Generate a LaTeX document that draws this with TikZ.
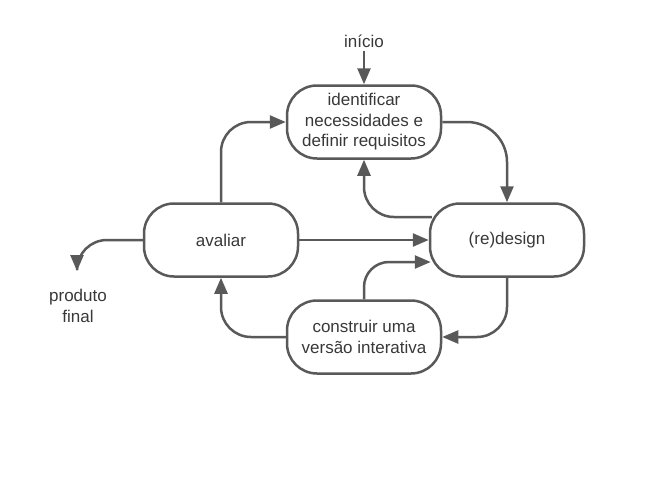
\documentclass[tikz,border=0pt]{standalone}
\usepackage{fontspec}
\setmainfont{Liberation Sans}
\usetikzlibrary{arrows.meta}
\definecolor{linha}{HTML}{595959}
\definecolor{texto}{HTML}{383838}

\begin{document}
\begin{tikzpicture}[x = 1pt, y = -1pt,
        font = \fontsize{17}{20.5}\selectfont, text = texto,
        etapa/.style = {draw = linha, line width = 2.5pt, rounded corners = 30pt,
            minimum width = 154pt, minimum height = 73pt, align = center, inner sep = 0pt},
        seta/.style = {draw = linha, line width = 2.5pt, -{Triangle[length=16pt,width=13pt]}}]
        \useasboundingbox (0,0) rectangle (664,479);

        \node[etapa] (ident) at (364,122) {identificar\\necessidades e\\definir requisitos};
        \node[etapa] (design) at (507,240) {(re)design};
        \node[etapa] (aval) at (221,240) {avaliar};
        \node[etapa] (constr) at (364,337) {construir uma\\vers\~ao interativa};

        \node (inicio) at (364,41) {in\'icio};
        \node[align = center] (produto) at (78,306) {produto\\final};
        \coordinate (fim) at (77,271);

        \draw[seta] (inicio.south) -- (ident.north);
        \draw[seta, rounded corners = 40pt] (ident.east) -| (design.north);
        \draw[seta, rounded corners = 30pt] ([xshift=3pt,yshift=23pt]design.west) -| (ident.south);
        \draw[seta, rounded corners = 30pt] (aval.north) |- (ident.west);
        \draw[seta] (aval.east) -- (design.west);
        \draw[seta, rounded corners = 30pt] (design.south) |- (constr.east);
        \draw[seta, rounded corners = 25pt] (constr.north) |- ([xshift=2pt,yshift=-22pt]design.west);
        \draw[seta, rounded corners = 30pt] (constr.west) -| (aval.south);
        \draw[seta, rounded corners = 30pt] (aval.west) -| (fim);
    \end{tikzpicture}
\end{document}
